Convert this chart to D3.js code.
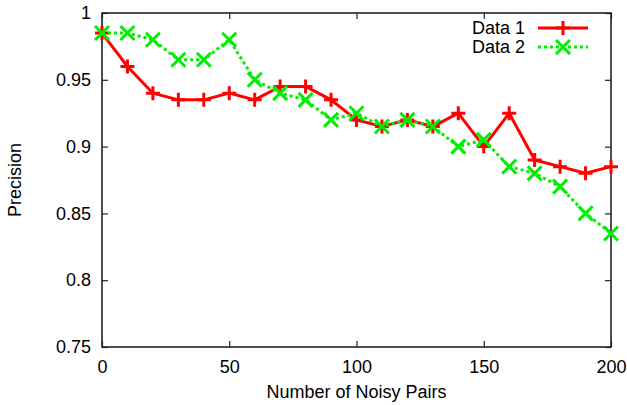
<!DOCTYPE html>
<html>
<head>
<meta charset="utf-8">
<script src="https://cdn.jsdelivr.net/npm/d3@7"></script>
<style>
  body { margin: 0; background: #ffffff; }
  text { font-family: "Liberation Sans", Arial, sans-serif; fill: #000; }
</style>
</head>
<body>
<script>
// Data.
const noisyPairs = [0, 10, 20, 30, 40, 50, 60, 70, 80, 90, 100, 110, 120, 130, 140, 150, 160, 170, 180, 190, 200];
const data1 = [0.985, 0.96, 0.94, 0.935, 0.935, 0.94, 0.935, 0.945, 0.945, 0.935, 0.92, 0.915, 0.92, 0.915, 0.925, 0.9, 0.925, 0.89, 0.885, 0.88, 0.885];
const data2 = [0.985, 0.985, 0.98, 0.965, 0.965, 0.98, 0.95, 0.94, 0.935, 0.92, 0.925, 0.915, 0.92, 0.915, 0.9, 0.905, 0.885, 0.88, 0.87, 0.85, 0.835];
const xTicks = [0, 50, 100, 150, 200];
const yTicks = [0.75, 0.8, 0.85, 0.9, 0.95, 1];
const seriesNames = ['Data 1', 'Data 2'];

// Layout.
const size = {width: 627, height: 405};
const plot = {left: 102, right: 611, top: 13, bottom: 347};
const fontSize = 18;

const svg = d3.select('body')
  .append('svg')
  .attr('width', size.width)
  .attr('height', size.height);

const x = d3.scaleLinear().domain([0, 200]).range([plot.left, plot.right]);
const y = d3.scaleLinear().domain([0.75, 1]).range([plot.bottom, plot.top]);

// Ticks, mirrored on all four sides (gnuplot style).
const tickLen = 6;
const axisColor = '#222';

const bottomAxis = d3.axisBottom(x).tickValues(xTicks).tickSize(-tickLen).tickPadding(13).tickFormat(d3.format('d'));
const topAxis = d3.axisTop(x).tickValues(xTicks).tickSize(-tickLen).tickFormat('');
const leftAxis = d3.axisLeft(y).tickValues(yTicks).tickSize(-tickLen).tickPadding(11).tickFormat((d) => String(d));
const rightAxis = d3.axisRight(y).tickValues(yTicks).tickSize(-tickLen).tickFormat('');

function styleAxis(g)
{
  g.select('.domain').remove();
  g.selectAll('line').attr('stroke', axisColor).attr('stroke-width', 1.2);
  g.selectAll('text').style('font-size', fontSize + 'px').attr('fill', '#000');
}

svg.append('g').attr('transform', 'translate(0,' + plot.bottom + ')').call(bottomAxis).call(styleAxis);
svg.append('g').attr('transform', 'translate(0,' + plot.top + ')').call(topAxis).call(styleAxis);
svg.append('g').attr('transform', 'translate(' + plot.left + ',0)').call(leftAxis).call(styleAxis);
svg.append('g').attr('transform', 'translate(' + plot.right + ',0)').call(rightAxis).call(styleAxis);

// Frame.
svg.append('rect')
  .attr('x', plot.left)
  .attr('y', plot.top)
  .attr('width', plot.right - plot.left)
  .attr('height', plot.bottom - plot.top)
  .attr('fill', 'none')
  .attr('stroke', axisColor)
  .attr('stroke-width', 1.6);

// Axis titles.
svg.append('text')
  .attr('x', (plot.left + plot.right) / 2)
  .attr('y', 398)
  .attr('text-anchor', 'middle')
  .style('font-size', fontSize + 'px')
  .text('Number of Noisy Pairs');

svg.append('text')
  .attr('transform', 'translate(21,' + ((plot.top + plot.bottom) / 2) + ') rotate(-90)')
  .attr('text-anchor', 'middle')
  .style('font-size', fontSize + 'px')
  .text('Precision');

// Series.
const series = [
  {name: seriesNames[0], values: data1, color: '#ff0000', dash: null, marker: 'plus'},
  {name: seriesNames[1], values: data2, color: '#00ee00', dash: '3,3', marker: 'cross'}
];

const line = d3.line()
  .x((d) => x(d[0]))
  .y((d) => y(d[1]));

function drawMarker(g, type, cx, cy, color)
{
  const r = 7;
  let path;
  if (type == 'plus')
  {
    path = 'M' + (cx - r) + ',' + cy + 'H' + (cx + r) + 'M' + cx + ',' + (cy - r) + 'V' + (cy + r);
  }
  else
  {
    path = 'M' + (cx - r) + ',' + (cy - r) + 'L' + (cx + r) + ',' + (cy + r) +
           'M' + (cx - r) + ',' + (cy + r) + 'L' + (cx + r) + ',' + (cy - r);
  }
  g.append('path')
    .attr('d', path)
    .attr('stroke', color)
    .attr('stroke-width', 3)
    .attr('fill', 'none');
}

series.forEach((s) =>
{
  const pts = noisyPairs.map((n, i) => [n, s.values[i]]);
  const g = svg.append('g');
  g.append('path')
    .datum(pts)
    .attr('d', line)
    .attr('fill', 'none')
    .attr('stroke', s.color)
    .attr('stroke-width', 3)
    .attr('stroke-dasharray', s.dash);
  pts.forEach((p) => drawMarker(g, s.marker, x(p[0]), y(p[1]), s.color));
});

// Legend.
const legend = {textRight: 525, lineStart: 538, lineEnd: 588, rowY: [28, 47]};
series.forEach((s, i) =>
{
  const ly = legend.rowY[i];
  const g = svg.append('g');
  g.append('text')
    .attr('x', legend.textRight)
    .attr('y', ly)
    .attr('dy', '0.35em')
    .attr('text-anchor', 'end')
    .style('font-size', fontSize + 'px')
    .text(s.name);
  g.append('line')
    .attr('x1', legend.lineStart)
    .attr('x2', legend.lineEnd)
    .attr('y1', ly)
    .attr('y2', ly)
    .attr('stroke', s.color)
    .attr('stroke-width', 3)
    .attr('stroke-dasharray', s.dash);
  drawMarker(g, s.marker, (legend.lineStart + legend.lineEnd) / 2, ly, s.color);
});
</script>
</body>
</html>
